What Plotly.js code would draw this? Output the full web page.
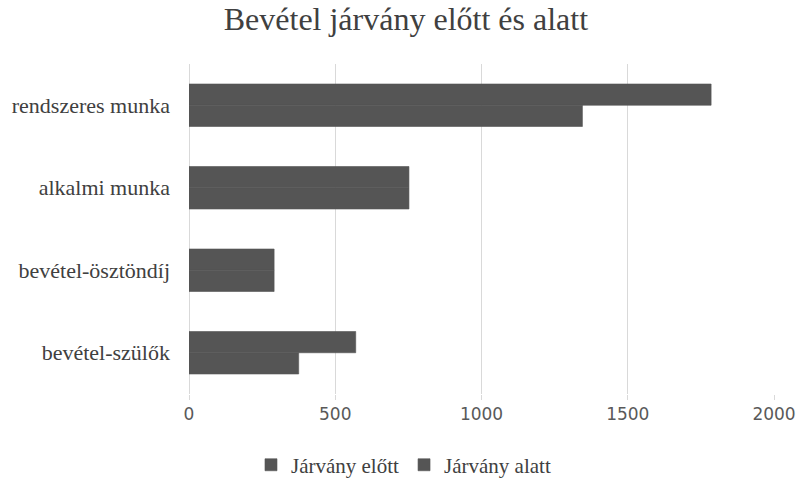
<!DOCTYPE html>
<html>
<head>
<meta charset="utf-8">
<script src="https://cdn.plot.ly/plotly-3.0.1.min.js"></script>
<style>html,body{margin:0;padding:0;background:#fff;}#chart{width:799px;height:479px;}</style>
</head>
<body>
<div id="chart"></div>
<script>
const categories = ["rendszeres munka", "alkalmi munka", "bevétel-ösztöndíj", "bevétel-szülők"];
const seriesNames = ["Járvány előtt", "Járvány alatt"];
const elotte = [1785, 752, 291, 570];
const alatt = [1345, 752, 291, 375];
const xTicks = [0, 500, 1000, 1500, 2000];

const barColor = "#555555";
const traces = [
  {type: "bar", orientation: "h", name: seriesNames[0], y: categories, x: elotte,
   marker: {color: barColor, line: {width: 0.6, color: barColor}}},
  {type: "bar", orientation: "h", name: seriesNames[1], y: categories, x: alatt,
   marker: {color: barColor, line: {width: 0.6, color: barColor}}}
];

const layout = {
  width: 799, height: 479,
  margin: {l: 189, r: 25, t: 64, b: 85},
  paper_bgcolor: "#ffffff", plot_bgcolor: "#ffffff",
  barmode: "group",
  bargap: 0.485,
  bargroupgap: 0,
  showlegend: true,
  title: {
    text: "Bevétel járvány előtt és alatt",
    font: {family: "Liberation Serif", size: 32, color: "#404040"},
    xref: "container", x: 0.508, xanchor: "center",
    yref: "container", y: 0.96, yanchor: "middle"
  },
  xaxis: {
    range: [0, 2000],
    tickvals: xTicks,
    ticktext: xTicks.map(String),
    showgrid: true, gridcolor: "#d9d9d9", gridwidth: 1,
    zeroline: true, zerolinecolor: "#d9d9d9", zerolinewidth: 1,
    showline: false,
    ticks: "outside", ticklen: 5, tickcolor: "#d9d9d9",
    tickfont: {family: "DejaVu Sans", size: 17, color: "#595959"}
  },
  yaxis: {
    autorange: "reversed",
    type: "category",
    showgrid: false, zeroline: false, showline: false,
    ticks: "",
    ticklabelstandoff: 18,
    tickfont: {family: "Liberation Serif", size: 22, color: "#404040"}
  },
  legend: {
    orientation: "h",
    xref: "container", x: 0.505, xanchor: "center",
    yref: "container", y: 0.029, yanchor: "middle",
    font: {family: "Liberation Serif", size: 21, color: "#404040"},
    itemwidth: 30,
    tracegroupgap: 0
  }
};

Plotly.newPlot("chart", traces, layout, {displayModeBar: false, staticPlot: true});
</script>
</body>
</html>
